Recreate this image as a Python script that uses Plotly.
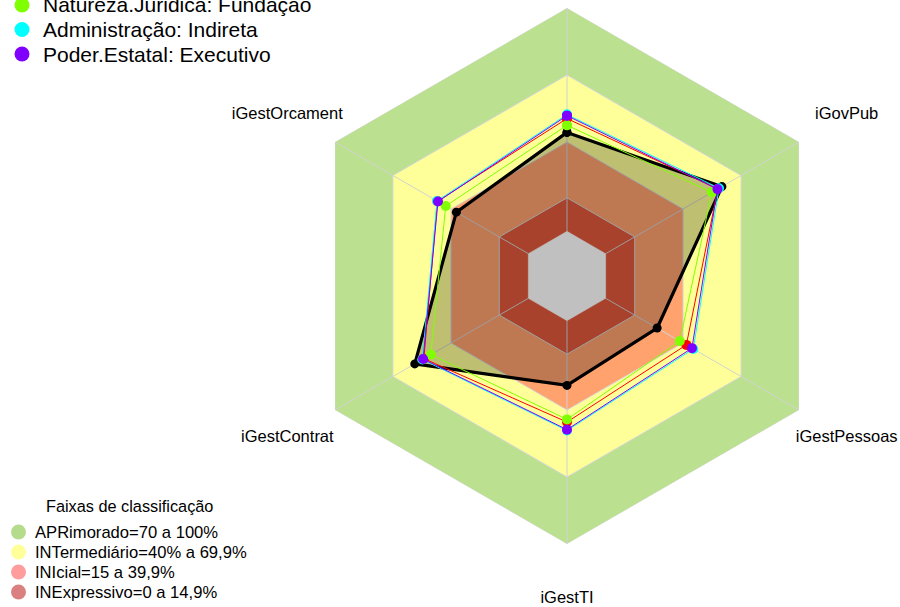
import math
import plotly.graph_objects as go

# ---------------- data ----------------
categories = ["iGG", "iGestOrcament", "iGestContrat", "iGestTI", "iGestPessoas", "iGovPub"]
# the top axis label lies above the visible page in the reference
axis_labels = ["", "iGestOrcament", "iGestContrat", "iGestTI", "iGestPessoas", "iGovPub"]

serie_organizacao = [44.3, 37.2, 58.7, 29.0, 26.6, 60.1]   # black (legend entry above the page)
serie_vermelha = [50.5, 47.0, 54.0, 45.4, 41.7, 58.0]       # red (legend entry above the page)
serie_natureza = [47.5, 42.7, 50.4, 44.2, 38.3, 54.9]       # Natureza.Juridica: Fundação
serie_administracao = [52.3, 47.2, 54.8, 49.2, 45.3, 58.6]  # Administração: Indireta
serie_poder = [51.8, 46.7, 54.4, 48.8, 44.6, 57.8]          # Poder.Estatal: Executivo

series_names = ["Natureza.Juridica: Fundação", "Administração: Indireta", "Poder.Estatal: Executivo"]
faixas_title = "Faixas de classificação"
faixa_names = ["APRimorado=70 a 100%", "INTermediário=40% a 69,9%", "INIcial=15 a 39,9%", "INExpressivo=0 a 14,9%"]
faixa_upper = [100, 70, 40, 15]
centro = 0
radial_min = -20
radial_max = 100
label_r = 124.6

# ---------------- layout constants ----------------
W, H = 900, 607
CX, CY, R_PX = 567, 276, 268
K = R_PX / (radial_max - radial_min)   # px per radial unit
FONT = "Liberation Sans, Arial, sans-serif"


def closed(v):
    return list(v) + [v[0]]


theta_c = closed(categories)
fig = go.Figure()

# classification bands (rendered colours)
band_colors = ["#BBE08F", "#FFFF99", "#FFA26E", "#E0583B"]
for up, col in zip(faixa_upper, band_colors):
    fig.add_trace(go.Scatterpolar(
        r=closed([up] * len(categories)), theta=theta_c, mode="lines",
        fill="toself", fillcolor=col, line=dict(color="#D6D6D6", width=1),
        showlegend=False, hoverinfo="skip"))

# spokes
spoke_r, spoke_t = [], []
for c in categories:
    spoke_r += [centro, radial_max, None]
    spoke_t += [c, c, None]
fig.add_trace(go.Scatterpolar(
    r=spoke_r, theta=spoke_t, mode="lines", connectgaps=False,
    line=dict(color="#D2D2D2", width=1), showlegend=False, hoverinfo="skip"))

# main (black) series with translucent fill
fig.add_trace(go.Scatterpolar(
    r=closed(serie_organizacao), theta=theta_c, mode="lines+markers",
    fill="toself", fillcolor="rgba(0,0,0,0.25)",
    line=dict(color="black", width=3.2), marker=dict(color="black", size=9),
    showlegend=False))

# grey centre
fig.add_trace(go.Scatterpolar(
    r=closed([centro] * len(categories)), theta=theta_c, mode="lines",
    fill="toself", fillcolor="#C0C0C0", line=dict(color="#C0C0C0", width=0.5),
    showlegend=False, hoverinfo="skip"))

# other series
for vals, col in [(serie_vermelha, "#FF0000"), (serie_natureza, "#80FF00"),
                  (serie_administracao, "#00FFFF"), (serie_poder, "#8000FF")]:
    fig.add_trace(go.Scatterpolar(
        r=closed(vals), theta=theta_c, mode="lines+markers",
        line=dict(color=col, width=1), marker=dict(color=col, size=10),
        showlegend=False))

# axis labels on a hidden cartesian overlay that shares the polar centre/scale
ang = [math.radians(90 + 360 / len(categories) * i) for i in range(len(categories))]
lab_u = [(label_r - radial_min) * math.cos(a) for a in ang]
lab_v = [(label_r - radial_min) * math.sin(a) for a in ang]
fig.add_trace(go.Scatter(
    x=lab_u, y=lab_v, mode="text", text=axis_labels, textposition="middle center",
    textfont=dict(family=FONT, size=16.5, color="black"),
    xaxis="x", yaxis="y", showlegend=False, hoverinfo="skip", cliponaxis=False))

# ---------------- legends (layout shapes + annotations) ----------------
shapes = []
annotations = []


def legend_row(cx, cy, d, color, tx, text, size):
    shapes.append(dict(type="circle", xref="paper", yref="paper",
                       xsizemode="pixel", ysizemode="pixel",
                       xanchor=cx / W, yanchor=1 - cy / H,
                       x0=-d / 2, x1=d / 2, y0=-d / 2, y1=d / 2,
                       fillcolor=color, line=dict(width=0)))
    annotations.append(dict(xref="paper", yref="paper", x=tx / W, y=1 - cy / H,
                            xanchor="left", yanchor="middle", showarrow=False,
                            text=text, font=dict(family=FONT, size=size, color="black")))


top_rows_y = [5, 29.5, 54]
for yy, name, col in zip(top_rows_y, series_names, ["#80FF00", "#00FFFF", "#8000FF"]):
    legend_row(22, yy, 15, col, 40.5, name, 21)

annotations.append(dict(xref="paper", yref="paper", x=129 / W, y=1 - 506 / H,
                        xanchor="center", yanchor="middle", showarrow=False,
                        text=faixas_title, font=dict(family=FONT, size=16.3, color="black")))
bottom_rows_y = [532, 552, 572, 592]
legend_band_colors = ["#B5DC8C", "#FFFF99", "#FF9C9C", "#DB8080"]
for yy, name, col in zip(bottom_rows_y, faixa_names, legend_band_colors):
    legend_row(18.5, yy, 15, col, 33, name, 16.6)

fig.update_layout(
    width=W, height=H,
    margin=dict(l=0, r=0, t=0, b=0, autoexpand=False),
    paper_bgcolor="white", plot_bgcolor="rgba(0,0,0,0)",
    showlegend=False,
    font=dict(family=FONT, color="black"),
    xaxis=dict(domain=[0, 1], range=[-CX / K, (W - CX) / K], visible=False, fixedrange=True),
    yaxis=dict(domain=[0, 1], range=[(CY - H) / K, CY / K], visible=False, fixedrange=True),
    polar=dict(
        domain=dict(x=[(CX - R_PX) / W, (CX + R_PX) / W],
                    y=[1 - (CY + R_PX) / H, 1 - (CY - R_PX) / H]),
        bgcolor="rgba(0,0,0,0)",
        gridshape="linear",
        radialaxis=dict(range=[radial_min, radial_max], visible=False),
        angularaxis=dict(rotation=90, direction="counterclockwise",
                         showticklabels=False, ticks="", showline=False,
                         showgrid=False),
    ),
    shapes=shapes,
    annotations=annotations,
)

fig.write_html("out.html", config={"displayModeBar": False},
               post_script="document.body.style.margin='0px';")
